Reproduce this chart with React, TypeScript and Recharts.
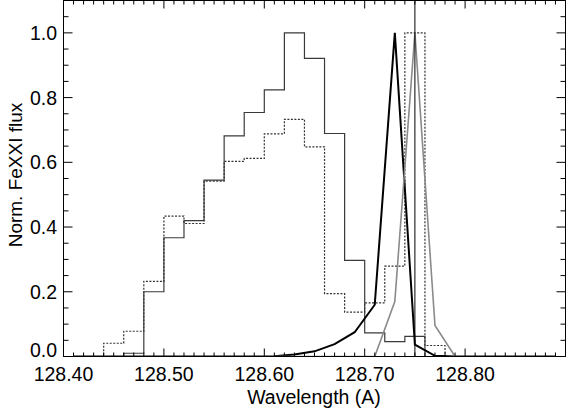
import { LineChart, Line, XAxis, YAxis, ReferenceLine, Label } from "recharts";

// histogram bins (left edges, 0.02 A wide)
const binStarts = [
  128.4, 128.42, 128.44, 128.46, 128.48, 128.5, 128.52, 128.54, 128.56, 128.58,
  128.6, 128.62, 128.64, 128.66, 128.68, 128.7, 128.72, 128.74, 128.76, 128.78,
  128.8, 128.82, 128.84, 128.86, 128.88,
];
const lastEdge = 128.9;

const solidFlux = [
  0, 0, 0, 0.01, 0.2, 0.367, 0.42, 0.545, 0.682, 0.754,
  0.824, 1.0, 0.921, 0.689, 0.297, 0.073, 0.046, 0.062, 0, 0,
  0, 0, 0, 0, 0,
];
const dottedFlux = [
  0, 0, 0.041, 0.078, 0.232, 0.434, 0.411, 0.542, 0.603, 0.612,
  0.688, 0.733, 0.648, 0.194, 0.137, 0.166, 0.279, 1.0, 0.034, 0,
  0, 0, 0, 0, 0,
];

// line profiles
const profileX = [
  128.41, 128.43, 128.45, 128.47, 128.49, 128.51, 128.53, 128.55, 128.57, 128.59,
  128.61, 128.63, 128.65, 128.67, 128.69, 128.71, 128.73, 128.75, 128.77, 128.79,
  128.81, 128.83, 128.85, 128.87, 128.89,
];
const blackProfile = [
  0, 0, 0, 0, 0, 0, 0, 0, 0, 0,
  0.001, 0.006, 0.016, 0.038, 0.075, 0.16, 1.0, 0.037, 0.002, 0,
  0, 0, 0, 0, 0,
];
const grayProfile = [
  0, 0, 0, 0, 0, 0, 0, 0, 0, 0,
  0, 0, 0, 0, 0, 0, 0.17, 1.0, 0.096, 0,
  0, 0, 0, 0, 0,
];

const restWavelength = 128.75;

const xMajorTicks = [128.4, 128.5, 128.6, 128.7, 128.8];
const yMajorTicks = [0, 0.2, 0.4, 0.6, 0.8, 1.0];

const FONT = '"Liberation Sans", Arial, Helvetica, sans-serif';
const FS = 19.5;

const W = 566;
const H = 408;
const PLOT_LEFT = 63.5;
const PLOT_RIGHT = 565.5;
const PLOT_TOP = 0.5;
const PLOT_BOTTOM = 356.5;

const xTicks: number[] = [];
for (let i = 0; i <= 50; i++) xTicks.push(+(128.4 + i * 0.01).toFixed(2));
const yTicks: number[] = [];
for (let i = 0; i <= 22; i++) yTicks.push(+(i * 0.05).toFixed(2));

const isMajor = (v: number, list: number[]) => list.some((m) => Math.abs(m - v) < 1e-6);

const histo = (values: number[]) => {
  const pts = binStarts.map((x, i) => ({ x, y: values[i] }));
  pts.push({ x: lastEdge, y: values[values.length - 1] });
  return pts;
};
const profile = (values: number[]) => profileX.map((x, i) => ({ x, y: values[i] }));

// ticks point inwards on all four sides
function BottomTick(props: any) {
  const { x, payload } = props;
  const v = payload.value;
  const major = isMajor(v, xMajorTicks);
  const y = PLOT_BOTTOM;
  return (
    <g>
      <line x1={x} x2={x} y1={y} y2={y - (major ? 8 : 4)} stroke="#000" />
      {major && (
        <text x={x} y={y + 24.5} textAnchor="middle" fontSize={FS} fontFamily={FONT} fill="#000">
          {v.toFixed(2)}
        </text>
      )}
    </g>
  );
}

function TopTick(props: any) {
  const { x, payload } = props;
  const major = isMajor(payload.value, xMajorTicks);
  return <line x1={x} x2={x} y1={PLOT_TOP} y2={PLOT_TOP + (major ? 8 : 4)} stroke="#000" />;
}

function LeftTick(props: any) {
  const { y, payload } = props;
  const v = payload.value;
  const major = isMajor(v, yMajorTicks);
  const x = PLOT_LEFT;
  return (
    <g>
      <line x1={x} x2={x + (major ? 9 : 5)} y1={y} y2={y} stroke="#000" />
      {major && (
        <text
          x={x - 6.5}
          y={v === 0 ? y - 7 : y}
          dy="0.36em"
          textAnchor="end"
          fontSize={FS}
          fontFamily={FONT}
          fill="#000"
        >
          {v.toFixed(1)}
        </text>
      )}
    </g>
  );
}

function RightTick(props: any) {
  const { y, payload } = props;
  const major = isMajor(payload.value, yMajorTicks);
  return <line x1={PLOT_RIGHT} x2={PLOT_RIGHT - (major ? 9 : 5)} y1={y} y2={y} stroke="#000" />;
}

export default function App() {
  return (
    <div style={{ position: "absolute", left: 0, top: 0, background: "#fff" }}>
      <LineChart
        width={W}
        height={H}
        margin={{ top: PLOT_TOP - 1, right: W - PLOT_RIGHT - 1, bottom: 0, left: PLOT_LEFT - 1 }}
      >
        <XAxis
          xAxisId={0}
          type="number"
          dataKey="x"
          domain={[128.4, 128.9]}
          allowDataOverflow
          ticks={xTicks}
          interval={0}
          height={H - PLOT_BOTTOM}
          tickLine={false}
          axisLine={{ stroke: "#000" }}
          tick={<BottomTick />}
        >
          <Label
            content={() => (
              <text x={314} y={404} textAnchor="middle" fontSize={FS} fontFamily={FONT} fill="#000">
                Wavelength (A)
              </text>
            )}
          />
        </XAxis>
        <XAxis
          xAxisId="top"
          orientation="top"
          type="number"
          dataKey="x"
          domain={[128.4, 128.9]}
          allowDataOverflow
          ticks={xTicks}
          interval={0}
          height={1}
          tickLine={false}
          axisLine={{ stroke: "#000" }}
          tick={<TopTick />}
        />
        <YAxis
          yAxisId={0}
          type="number"
          domain={[0, 1.1]}
          allowDataOverflow
          ticks={yTicks}
          interval={0}
          width={1}
          tickLine={false}
          axisLine={{ stroke: "#000" }}
          tick={<LeftTick />}
        >
          <Label
            content={() => (
              <text
                x={22}
                y={175}
                transform="rotate(-90 22 175)"
                textAnchor="middle"
                fontSize={19}
                fontFamily={FONT}
                fill="#000"
              >
                Norm. FeXXI flux
              </text>
            )}
          />
        </YAxis>
        <YAxis
          yAxisId="right"
          orientation="right"
          type="number"
          domain={[0, 1.1]}
          allowDataOverflow
          ticks={yTicks}
          interval={0}
          width={1}
          tickLine={false}
          axisLine={{ stroke: "#000" }}
          tick={<RightTick />}
        />
        <Line
          data={histo(solidFlux)}
          dataKey="y"
          type="stepAfter"
          stroke="#3a3a3a"
          strokeWidth={1.2}
          dot={false}
          isAnimationActive={false}
        />
        <Line
          data={histo(dottedFlux)}
          dataKey="y"
          type="stepAfter"
          stroke="#333"
          strokeWidth={1.2}
          strokeDasharray="2 1.5"
          dot={false}
          isAnimationActive={false}
        />
        <Line
          data={profile(blackProfile)}
          dataKey="y"
          type="linear"
          stroke="#000"
          strokeWidth={2}
          dot={false}
          isAnimationActive={false}
        />
        <Line
          data={profile(grayProfile)}
          dataKey="y"
          type="linear"
          stroke="#8a8a8a"
          strokeWidth={1.6}
          dot={false}
          isAnimationActive={false}
        />
        <ReferenceLine x={restWavelength} stroke="#000" strokeWidth={1} />
      </LineChart>
    </div>
  );
}
